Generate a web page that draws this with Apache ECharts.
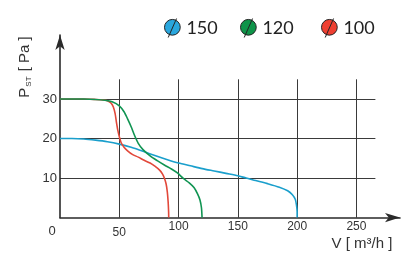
<!DOCTYPE html>
<html><head><meta charset="utf-8">
<script src="https://cdn.jsdelivr.net/npm/echarts@6/dist/echarts.min.js"></script>
<style>html,body{margin:0;padding:0;background:#fff}#c{width:405px;height:266px}</style>
</head><body><div id="c"></div>
<script>
const seriesNames = ['150', '120', '100'];
const xTicks = [0, 50, 100, 150, 200, 250];
const yTicks = [10, 20, 30];
const blue150 = [[0,20],[10,20],[20,19.9],[30,19.6],[40,19.2],[50,18.6],[60,17.8],[70,16.8],[80,15.7],[90,14.7],[100,13.8],[110,13.1],[120,12.4],[130,11.8],[140,11.2],[150,10.6],[157,10.0],[165,9.4],[175,8.6],[185,7.7],[192,6.8],[196,5.8],[198.5,4.6],[199.5,3],[200,1.5],[200,0]];
const green120 = [[0,30],[10,30],[20,30],[30,29.9],[38,29.7],[44,29.3],[50,28.3],[54,26.8],[57,25.0],[60,23.0],[63,20.7],[66,18.8],[70,17.2],[76,15.6],[82,14.4],[88,13.3],[94,12.3],[99,11.3],[104,9.9],[109,8.8],[113,7.6],[116,6.0],[118,4.5],[119.3,2.5],[119.8,0]];
const red100 = [[0,30],[10,30],[20,30],[30,29.9],[36,29.8],[40,29.6],[43,29.0],[45,28.0],[46.5,26.3],[47.5,24.3],[48.7,22.2],[50,20.5],[51.5,19.0],[54,17.8],[57,16.9],[61,16.0],[66,15.3],[71,14.5],[76,13.8],[80,13.0],[84,12.0],[86.5,11.0],[88,10.0],[89.5,8.5],[90.5,6.5],[91.2,4],[91.6,1.5],[91.7,0]];
const colors = ['#1a9fcc', '#109452', '#e2483a'];
const legendColors = ['#2aa7de', '#0e9449', '#ee3f31'];

const chart = echarts.init(document.getElementById('c'), null, {renderer:'canvas'});
const icon = 'path://M10,1.5a8.5,8.5 0 1,0 0.001,0zM5.5,21L14.5,0.5';
const legendLefts = [164, 240, 321];
const lineStyleGrid = {color:'#3a3a3a', width:1};
chart.setOption({
  animation:false,
  grid:[
    {left:60, top:79.3, right:29.6, bottom:48.4, outerBoundsMode:'none'},
    {left:60, top:35, right:5, bottom:48.4, outerBoundsMode:'none'}
  ],
  legend: seriesNames.map((n,i)=>({
    data:[n], left:legendLefts[i], top:18, padding:0, icon:icon, itemWidth:16, itemHeight:19, itemGap:0,
    textStyle:{fontFamily:'Lato', fontSize:18, color:'#222', padding:[0,0,0,1]},
    itemStyle:{color:legendColors[i], borderColor:'#222', borderWidth:1}
  })),
  xAxis:[
    {type:'value', gridIndex:0, min:0, max:266, interval:50,
     axisLine:{show:false}, axisTick:{show:false},
     splitLine:{show:true, lineStyle:lineStyleGrid, showMaxLine:false, showMinLine:false},
     axisLabel:{showMaxLabel:false, margin:3, fontFamily:'Liberation Sans', fontSize:12, color:'#333',
       formatter:v=> v===0 ? '{z|0}' : (v===50 ? '{d|50}' : String(v)),
       rich:{z:{fontSize:13, fontFamily:'Liberation Sans', color:'#333', padding:[4,16,0,0]}, d:{fontSize:12, fontFamily:'Liberation Sans', color:'#333', padding:[6,0,0,0]}}}},
    {type:'value', gridIndex:1, min:0, max:1, axisLine:{show:true, symbol:['none','arrow'], symbolSize:[7,15], lineStyle:{color:'#2a2a2a', width:1.6}},
     axisTick:{show:false}, axisLabel:{show:false}, splitLine:{show:false}}
  ],
  yAxis:[
    {type:'value', gridIndex:0, min:0, max:35, interval:10,
     axisLine:{show:false}, axisTick:{show:false},
     splitLine:{show:true, lineStyle:lineStyleGrid, showMaxLine:false, showMinLine:false},
     axisLabel:{showMaxLabel:false, showMinLabel:false, margin:3, fontFamily:'Liberation Sans', fontSize:13, color:'#333'}},
    {type:'value', gridIndex:1, min:0, max:1, axisLine:{show:true, symbol:['none','arrow'], symbolSize:[7,15], lineStyle:{color:'#2a2a2a', width:1.6}},
     axisTick:{show:false}, axisLabel:{show:false}, splitLine:{show:false}}
  ],
  series:[
    {name:'150', type:'line', data:blue150, smooth:0.25, showSymbol:false, symbol:'none', z:3, lineStyle:{color:colors[0], width:1.6}, itemStyle:{color:colors[0]}},
    {name:'120', type:'line', data:green120, smooth:0.25, showSymbol:false, symbol:'none', z:5, lineStyle:{color:colors[1], width:1.6}, itemStyle:{color:colors[1]}},
    {name:'100', type:'line', data:red100, smooth:0.25, showSymbol:false, symbol:'none', z:4, lineStyle:{color:colors[2], width:1.6}, itemStyle:{color:colors[2]}}
  ],
  graphic:[
    {type:'text', x:25, y:67, rotation:Math.PI/2, style:{
      text:'{p|P}{s|ST}{p| [ Pa ]}', align:'center', verticalAlign:'middle',
      rich:{p:{fontFamily:'Liberation Sans', fontSize:15, fill:'#333', verticalAlign:'bottom'}, s:{fontFamily:'Liberation Sans', fontSize:8, fill:'#333', verticalAlign:'bottom', padding:[0,1,0,1]}}}},
    {type:'text', x:362, y:244, style:{text:'V [ m\u00B3/h ]', align:'center', verticalAlign:'middle', font:'15px "Liberation Sans"', fill:'#333'}}
  ]
});
</script></body></html>
